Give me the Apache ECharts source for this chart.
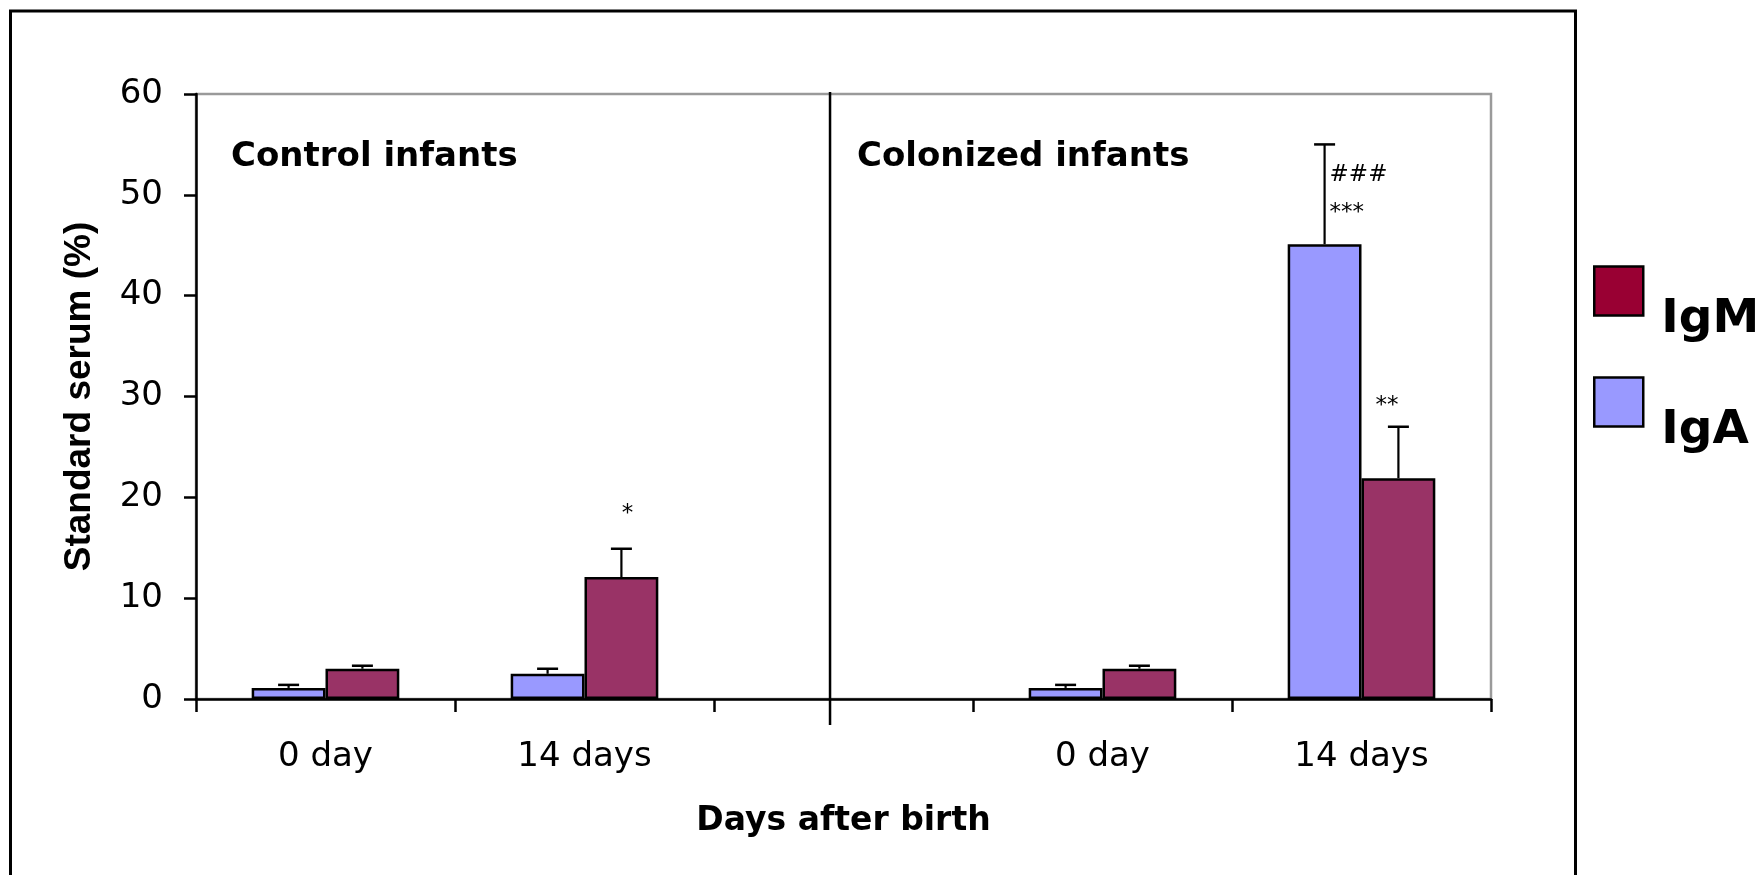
<!DOCTYPE html>
<html>
<head>
<meta charset="utf-8">
<title>Standard serum IgA / IgM</title>
<script src="https://cdn.jsdelivr.net/npm/echarts@6/dist/echarts.min.js"></script>
<style>
  html, body { margin: 0; padding: 0; background: #fff; }
  #chart { width: 1759px; height: 875px; }
</style>
</head>
<body>
<div id="chart"></div>
<script>
// ---- data ----
const categories = ['0 day', '14 days', '', '0 day', '14 days'];
const igaMean = [1.1, 2.5, null, 1.1, 45.1];
const igaErr  = [0.3, 0.5, null, 0.3, 9.9];
const igmMean = [3.0, 12.1, null, 3.0, 21.9];
const igmErr  = [0.3, 2.8, null, 0.3, 5.1];
const yMin = 0, yMax = 60, yStep = 10;
const panelTitles = ['Control infants', 'Colonized infants'];
const separatorCategory = 2;

// significance marks: text, category index, series (0 = IgA, 1 = IgM), value level
const markTexts    = ['*', '###', '***', '**'];
const markCategory = [1, 4, 4, 4];
const markSeries   = [1, 0, 0, 1];
const markLevel    = [18.7, 52.2, 48.6, 29.4];

// ---- styling ----
const FONT = "'DejaVu Sans', Verdana, sans-serif";
const FONT_V = "'Liberation Sans', Arial, sans-serif";
const BAR_GAP = 0.43;           // barCategoryGap fraction
const CAP = 21;                 // error bar cap width (px)
const markAlign = ['center', 'left', 'left', 'right'];
const markDx = [6, 5, 5, 0];
const markDy = [4, 2, 4, 3];    // asterisks sit high in the em box

function barCenterX(api, cat, side) {
  const band = api.size([1, 0])[0];
  const barW = band * (1 - BAR_GAP) / 2;
  const c = api.coord([cat, 0]);
  return c[0] + (side === 0 ? -barW / 2 : barW / 2);
}

const errData = [];
for (let i = 0; i < categories.length; i++) {
  if (igaMean[i] != null) errData.push([i, igaMean[i], igaErr[i], 0]);
  if (igmMean[i] != null) errData.push([i, igmMean[i], igmErr[i], 1]);
}
const markData = markTexts.map((t, k) => [markCategory[k], markLevel[k], markSeries[k], k]);

const chart = echarts.init(document.getElementById('chart'), null, { renderer: 'canvas' });

chart.setOption({
  backgroundColor: '#ffffff',
  animation: false,
  textStyle: { fontFamily: FONT, color: '#000' },
  title: [
    { text: panelTitles[0], left: 231, top: 140, padding: 0,
      textStyle: { fontFamily: FONT, fontSize: 34, fontWeight: 'bold', color: '#000' } },
    { text: panelTitles[1], left: 857, top: 140, padding: 0,
      textStyle: { fontFamily: FONT, fontSize: 34, fontWeight: 'bold', color: '#000' } }
  ],
  legend: {
    orient: 'vertical',
    left: 1593,
    top: 239,
    padding: 0,
    itemWidth: 49,
    itemHeight: 49,
    itemGap: 7,
    icon: 'rect',
    selectedMode: false,
    data: [
      { name: 'IgM', itemStyle: { color: '#990033', borderColor: '#000', borderWidth: 2.5 } },
      { name: 'IgA', itemStyle: { color: '#9999FF', borderColor: '#000', borderWidth: 2.5 } }
    ],
    formatter: function (name) { return '{t|' + name + '}'; },
    textStyle: {
      fontFamily: FONT, fontSize: 47, fontWeight: 'bold', color: '#000',
      rich: {
        t: {
          fontFamily: FONT, fontSize: 47, fontWeight: 'bold', color: '#000',
          lineHeight: 56, padding: [57, 0, 0, 13]
        }
      }
    }
  },
  grid: {
    left: 196, right: 268, top: 94, bottom: 176,
    show: true, borderColor: '#9a9a9a', borderWidth: 2.5, backgroundColor: 'transparent'
  },
  xAxis: {
    type: 'category',
    data: categories,
    name: 'Days after birth',
    nameLocation: 'middle',
    nameGap: 106,
    nameTextStyle: { fontFamily: FONT, fontSize: 33, fontWeight: 'bold', color: '#000' },
    axisLine: { lineStyle: { color: '#000', width: 2.5 } },
    axisTick: { show: true, inside: false, length: 13, lineStyle: { color: '#000', width: 2.5 } },
    axisLabel: { interval: 0, margin: 41, fontFamily: FONT, fontSize: 34, color: '#000' },
    splitLine: { show: false }
  },
  yAxis: {
    type: 'value',
    min: yMin, max: yMax, interval: yStep,
    name: 'Standard serum (%)',
    nameLocation: 'middle',
    nameGap: 98,
    nameRotate: 90,
    nameTextStyle: { fontFamily: FONT_V, fontSize: 37, fontWeight: 'bold', color: '#000' },
    axisLine: { show: true, lineStyle: { color: '#000', width: 2.5 } },
    axisTick: { show: true, inside: false, length: 12, lineStyle: { color: '#000', width: 2.5 } },
    axisLabel: { margin: 33, fontFamily: FONT, fontSize: 34, color: '#000' },
    splitLine: { show: false }
  },
  series: [
    {
      name: 'IgA', type: 'bar', data: igaMean,
      barGap: '0%', barCategoryGap: (BAR_GAP * 100) + '%',
      itemStyle: { color: '#9999FF', borderColor: '#000', borderWidth: 2.5 },
      z: 2
    },
    {
      name: 'IgM', type: 'bar', data: igmMean,
      barGap: '0%', barCategoryGap: (BAR_GAP * 100) + '%',
      itemStyle: { color: '#993366', borderColor: '#000', borderWidth: 2.5 },
      z: 2
    },
    {
      // upward error bars with caps
      name: 'error', type: 'custom', data: errData, z: 3, silent: true,
      renderItem: function (params, api) {
        const cat = api.value(0), mean = api.value(1), err = api.value(2), side = api.value(3);
        const x = barCenterX(api, cat, side);
        const y0 = api.coord([cat, mean])[1];
        const y1 = api.coord([cat, mean + err])[1];
        return {
          type: 'group',
          children: [
            { type: 'line', shape: { x1: x, y1: y0, x2: x, y2: y1 },
              style: { stroke: '#000', lineWidth: 2.2 } },
            { type: 'line', shape: { x1: x - CAP / 2, y1: y1, x2: x + CAP / 2, y2: y1 },
              style: { stroke: '#000', lineWidth: 2.5 } }
          ]
        };
      }
    },
    {
      // significance marks
      name: 'marks', type: 'custom', data: markData, z: 4, silent: true,
      renderItem: function (params, api) {
        const cat = api.value(0), level = api.value(1), side = api.value(2), k = api.value(3);
        const x = barCenterX(api, cat, side) + markDx[k];
        const y = api.coord([cat, level])[1] + markDy[k];
        return {
          type: 'text', x: x, y: y,
          style: {
            text: markTexts[k], fill: '#000',
            font: '23px ' + FONT,
            align: markAlign[k], verticalAlign: 'middle'
          }
        };
      }
    },
    {
      // vertical separator between the two groups of infants
      name: 'separator', type: 'custom', data: [[separatorCategory]], z: 1, silent: true,
      renderItem: function (params, api) {
        const cat = api.value(0);
        const band = api.size([1, 0])[0];
        const x = api.coord([cat, yMax])[0] - band * 0.052;
        const yTop = api.coord([cat, yMax])[1] - 2;
        const yBot = api.coord([cat, yMin])[1] + 26;
        return {
          type: 'line', shape: { x1: x, y1: yTop, x2: x, y2: yBot },
          style: { stroke: '#000', lineWidth: 2.5 }
        };
      }
    }
  ],
  graphic: [
    {
      type: 'rect', silent: true, z: -10,
      shape: { x: 10.5, y: 11, width: 1565, height: 900 },
      style: { fill: 'none', stroke: '#000', lineWidth: 3 }
    }
  ]
});
</script>
</body>
</html>
